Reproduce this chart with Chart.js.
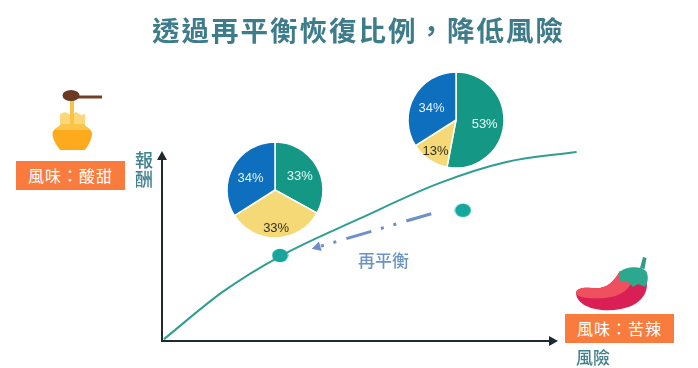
<!DOCTYPE html>
<html lang="zh-Hant">
<head>
    <meta charset="UTF-8">
    <title>透過再平衡恢復比例，降低風險</title>
    <script src="https://cdn.jsdelivr.net/npm/chart.js"></script>
    <style>
        html, body {
            margin: 0;
            padding: 0;
            background: #fff;
        }
        #page {
            position: relative;
            width: 698px;
            height: 368px;
            overflow: hidden;
            font-family: "Noto Sans CJK TC", sans-serif;
        }
        #page canvas, #page svg, .txt, .tag {
            position: absolute;
        }
        .txt {
            color: #41808f;
            font-weight: 500;
            white-space: nowrap;
        }
        .tag {
            background: #f97b3d;
            color: #fff;
            font-size: 16px;
            letter-spacing: 1px;
            line-height: 29px;
            height: 29px;
            text-align: center;
            width: 109px;
        }
    </style>
</head>
<body>
<div id="page">
    <canvas id="main" width="698" height="368" style="left:0;top:0"></canvas>
    <canvas id="pieAfter" width="100" height="100" style="left:225px;top:140px"></canvas>
    <canvas id="pieBefore" width="100" height="100" style="left:405.5px;top:69.5px"></canvas>

    <div class="txt" id="title" style="left:152px;top:8px;font-size:27.5px;line-height:42px;letter-spacing:2px;font-weight:700;color:#3f7c8b">透過再平衡恢復比例，降低風險</div>
    <div class="txt" style="left:135px;top:150px;width:18px;font-size:18px;line-height:19px;white-space:normal">報酬</div>
    <div class="txt" style="left:576px;top:346px;font-size:17px;line-height:21px">風險</div>
    <div class="txt" style="left:358px;top:249px;font-size:17px;line-height:21px;color:#6a93c6">再平衡</div>
    <div class="tag" style="left:16px;top:161px">風味：酸甜</div>
    <div class="tag" style="left:565px;top:314px">風味：苦辣</div>

    <!-- 蜂蜜 -->
    <svg style="left:0;top:0" width="698" height="368">
        <path d="M60 114l5-2 6 3 5-3 5 3 4-1v12H60z" fill="#fbd777"/>
        <path d="M62 124h21c3 3 9 5 9 10 0 5-4 12-7 16H60c-3-4-7.500-11-7.500-16 0-5 6-7 9.500-10z" fill="#fdab1c"/>
        <path d="M62 124h21c2 2 5 3.500 7 6H55c2-2.500 5-4 7-6z" fill="#fcc449"/>
        <path d="M70 99h4v25h-4z" fill="#fbc24a"/>
        <path d="M78 95.500h24v3H78z" fill="#6e4127"/>
        <ellipse cx="71" cy="95.500" rx="8.500" ry="5.500" fill="#6a3a20"/>
        <!-- 辣椒 -->
        <path d="M640 268l3-11 3.500 1-2 11z" fill="#2f9d8a"/>
        <path d="M576 293c0-5 8-6 16-5 13 2 21-5 28-17l27 13c0 13-10 22-26 25-22 4-44-2-45-16z" fill="#d91f56"/>
        <path d="M576 293c0-5 8-6 16-5 13 2 21-5 28-17l12 6c0 13-13 20-28 21-13 1-26 0-28-5z" fill="#f04f5d"/>
        <path d="M620 272c4-5 20-7 26-1 3 5 2 12-1 16l-7-3-5 3-6-6-7 1z" fill="#2ca88f"/>
    </svg>
</div>

<script>
    // кривая и точки снимались с картинки
    const frontierX = [0.5, 15.4, 29.8, 50, 70.2, 87, 104.7];
    const frontierY = [1, 26, 44.6, 64.5, 83.2, 94.2, 99.5];
    const portfolioX = [29.8, 76];
    const portfolioY = [45, 68.8];
    const rebalanceX = [68, 37.8];
    const rebalanceY = [67, 48.5];

    const assetColors = ['#149784', '#f5d976', '#0d6fbe'];
    const labelColors = ['#e8fbf7', '#33301f', '#e6f3fc'];
    const labelRadius = [0.6, 0.76, 0.58];
    const pieAfterValues = [33, 33, 34];
    const pieBeforeValues = [53, 13, 34];

    function dots(xs, ys) {
        return xs.map((x, i) => ({ x: x, y: ys[i] }));
    }

    // овальная точка
    const dotImg = document.createElement('canvas');
    dotImg.width = 17;
    dotImg.height = 15;
    const dotCtx = dotImg.getContext('2d');
    dotCtx.fillStyle = '#12a89c';
    dotCtx.beginPath();
    dotCtx.ellipse(8.5, 7.5, 8, 6.8, 0, 0, Math.PI * 2);
    dotCtx.fill();

    function arrowHead(ctx, x, y, angle, size, color) {
        ctx.save();
        ctx.translate(x, y);
        ctx.rotate(angle);
        ctx.fillStyle = color;
        ctx.beginPath();
        ctx.moveTo(0, 0);
        ctx.lineTo(-size, -size * 0.55);
        ctx.lineTo(-size, size * 0.55);
        ctx.closePath();
        ctx.fill();
        ctx.restore();
    }

    const axesPlugin = {
        id: 'axesPlugin',
        afterDraw(chart) {
            const ctx = chart.ctx;
            const a = chart.chartArea;
            ctx.save();
            ctx.strokeStyle = '#1d2a30';
            ctx.lineWidth = 2;
            ctx.beginPath();
            ctx.moveTo(a.left, a.top + 6);
            ctx.lineTo(a.left, a.bottom);
            ctx.lineTo(a.right - 6, a.bottom);
            ctx.stroke();
            ctx.restore();
            arrowHead(ctx, a.left, a.top, -Math.PI / 2, 9, '#1d2a30');
            arrowHead(ctx, a.right, a.bottom, 0, 9, '#1d2a30');

            // стрелка ребалансировки
            const pts = chart.getDatasetMeta(2).data;
            const p0 = pts[0], p1 = pts[1];
            const ang = Math.atan2(p1.y - p0.y, p1.x - p0.x);
            arrowHead(ctx, p1.x, p1.y, ang, 9, '#6f8fc6');
        }
    };

    new Chart(document.getElementById('main'), {
        type: 'scatter',
        data: {
            datasets: [
                {
                    data: dots(frontierX, frontierY),
                    showLine: true,
                    borderColor: '#2f9e92',
                    borderWidth: 2,
                    pointRadius: 0,
                    cubicInterpolationMode: 'monotone',
                    clip: false
                },
                {
                    data: dots(portfolioX, portfolioY),
                    pointStyle: dotImg,
                    pointRadius: 8
                },
                {
                    data: dots(rebalanceX, rebalanceY),
                    showLine: true,
                    borderColor: '#6f8fc6',
                    borderWidth: 3,
                    borderDash: [26, 10.5, 3, 10, 3, 10],
                    pointRadius: 0
                }
            ]
        },
        options: {
            responsive: false,
            animation: false,
            layout: { padding: { left: 162, right: 140, top: 151, bottom: 27 } },
            plugins: { legend: { display: false }, tooltip: { enabled: false } },
            scales: {
                x: { type: 'linear', display: false, min: 0, max: 100 },
                y: { type: 'linear', display: false, min: 0, max: 100 }
            }
        },
        plugins: [axesPlugin]
    });

    const pieLabels = {
        id: 'pieLabels',
        afterDatasetsDraw(chart) {
            const ctx = chart.ctx;
            const values = chart.data.datasets[0].data;
            chart.getDatasetMeta(0).data.forEach((arc, i) => {
                const mid = (arc.startAngle + arc.endAngle) / 2;
                const r = arc.outerRadius * labelRadius[i];
                ctx.save();
                ctx.font = '13px "Liberation Sans", Arial, sans-serif';
                ctx.fillStyle = labelColors[i];
                ctx.textAlign = 'center';
                ctx.textBaseline = 'middle';
                ctx.fillText(values[i] + '%', arc.x + Math.cos(mid) * r, arc.y + Math.sin(mid) * r + 1.5);
                ctx.restore();
            });
        }
    };

    function makePie(id, values) {
        new Chart(document.getElementById(id), {
            type: 'pie',
            data: {
                labels: ['A', 'B', 'C'],
                datasets: [{
                    data: values,
                    backgroundColor: assetColors,
                    borderColor: '#fff',
                    borderWidth: 1.5,
                    radius: 48
                }]
            },
            options: {
                responsive: false,
                animation: false,
                plugins: { legend: { display: false }, tooltip: { enabled: false } }
            },
            plugins: [pieLabels]
        });
    }

    makePie('pieAfter', pieAfterValues);
    makePie('pieBefore', pieBeforeValues);
</script>
</body>
</html>
